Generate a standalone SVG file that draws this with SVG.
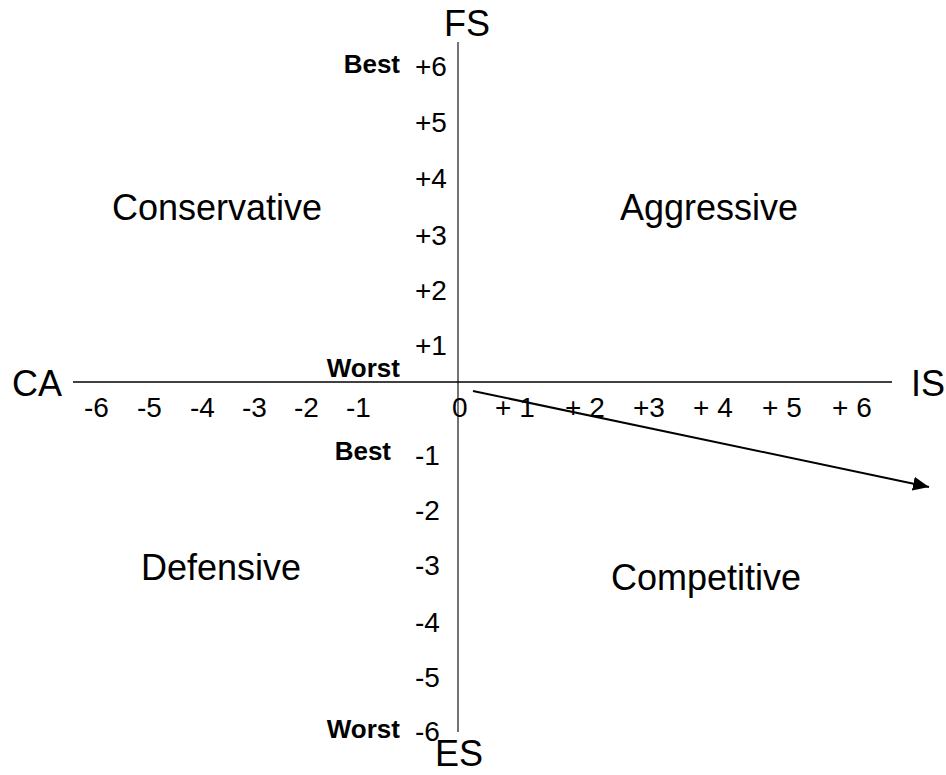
<svg xmlns="http://www.w3.org/2000/svg" width="946" height="775" viewBox="0 0 946 775">
<style>
text{font-family:"Liberation Sans",Arial,sans-serif;fill:#000}
.ax{font-size:36px}
.q{font-size:36px}
.n{font-size:28px}
.b{font-size:26px;font-weight:bold;text-anchor:end}
</style>
<defs>
<marker id="ah" viewBox="0 0 16 14" refX="16" refY="7" markerWidth="16" markerHeight="14" markerUnits="userSpaceOnUse" orient="auto">
<path d="M0,0 L16,7 L0,14 Z" fill="#000"/>
</marker>
</defs>
<rect width="946" height="775" fill="#fff"/>
<g id="connectors">
<line x1="458" y1="42" x2="458" y2="732" stroke="#444" stroke-width="1.5"/>
<line x1="73" y1="382" x2="892" y2="382" stroke="#000" stroke-width="1.5"/>
<line x1="473" y1="391" x2="929" y2="487" stroke="#000" stroke-width="2" marker-end="url(#ah)"/>
</g>
<g id="axis-labels">
<text class="ax" x="444" y="36">FS</text>
<text class="ax" x="12" y="396">CA</text>
<text class="ax" x="911" y="396">IS</text>
<text class="ax" x="435" y="766">ES</text>
</g>
<g id="quadrants">
<text id="conservative" class="q" x="112" y="220">Conservative</text>
<text id="aggressive" class="q" x="620" y="220">Aggressive</text>
<text id="defensive" class="q" x="141" y="580">Defensive</text>
<text id="competitive" class="q" x="611" y="590">Competitive</text>
</g>
<g id="y-scale">
<text class="n" x="415" y="76">+6</text>
<text class="n" x="415" y="132">+5</text>
<text class="n" x="415" y="188">+4</text>
<text class="n" x="415" y="245">+3</text>
<text class="n" x="415" y="300">+2</text>
<text class="n" x="415" y="355">+1</text>
<text class="n" x="415" y="465">-1</text>
<text class="n" x="415" y="520">-2</text>
<text class="n" x="415" y="575">-3</text>
<text class="n" x="415" y="632">-4</text>
<text class="n" x="415" y="687">-5</text>
<text class="n" x="415" y="741">-6</text>
</g>
<g id="x-scale">
<text class="n" x="84" y="417">-6</text>
<text class="n" x="137" y="417">-5</text>
<text class="n" x="190" y="417">-4</text>
<text class="n" x="242" y="417">-3</text>
<text class="n" x="294" y="417">-2</text>
<text class="n" x="346" y="417">-1</text>
<text class="n" x="452" y="417">0</text>
<text class="n" x="495" y="417">+ 1</text>
<text class="n" x="565" y="417">+ 2</text>
<text class="n" x="633" y="417">+3</text>
<text class="n" x="693" y="417">+ 4</text>
<text class="n" x="762" y="417">+ 5</text>
<text class="n" x="832" y="417">+ 6</text>
</g>
<g id="ratings">
<text class="b" x="400" y="73">Best</text>
<text class="b" x="400" y="377">Worst</text>
<text class="b" x="391" y="460">Best</text>
<text class="b" x="400" y="738">Worst</text>
</g>
</svg>
